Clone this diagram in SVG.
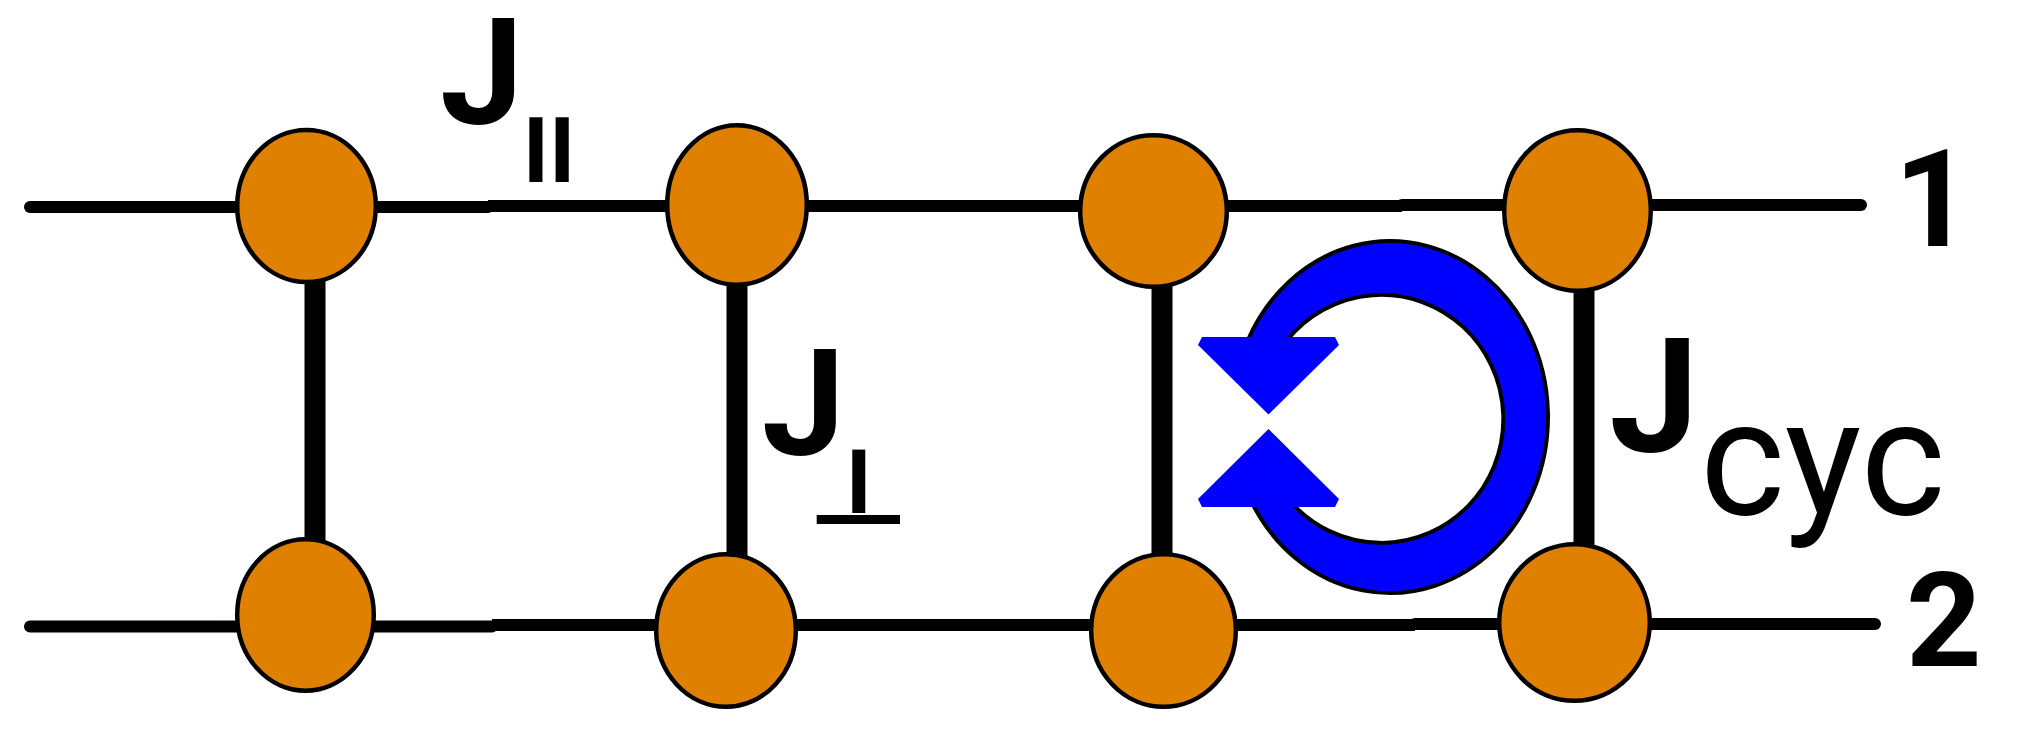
<svg xmlns="http://www.w3.org/2000/svg" width="2034" height="744" viewBox="0 0 2034 744">
  <style>
    .wire { stroke: #000; stroke-width: 12; fill: none; }
    .rung { stroke: #000; stroke-width: 21; fill: none; }
    .site { fill: #E08000; stroke: #000; stroke-width: 4.5; }
    .arrow { fill: #0000FF; }
  </style>
  <rect width="2034" height="744" fill="#fff"/>

  <g id="connectors">
    <line class="wire" x1="30" y1="207" x2="488" y2="207" stroke-linecap="round"/>
    <line class="wire" x1="488" y1="206" x2="1402" y2="206"/>
    <line class="wire" x1="1402" y1="205" x2="1861" y2="205" stroke-linecap="round"/>
    <line class="wire" x1="30" y1="626.5" x2="492" y2="626.5" stroke-linecap="round"/>
    <line class="wire" x1="492" y1="625" x2="1415" y2="625"/>
    <line class="wire" x1="1415" y1="624" x2="1875" y2="624" stroke-linecap="round"/>
    <line class="rung" x1="315" y1="250" x2="315" y2="575"/>
    <line class="rung" x1="737" y1="250" x2="737" y2="590"/>
    <line class="rung" x1="1162" y1="255" x2="1162" y2="590"/>
    <line class="rung" x1="1584" y1="255" x2="1584" y2="580"/>
  </g>

  <g id="n1"><ellipse class="site" cx="306.5" cy="206" rx="69.3" ry="76"/></g>
  <g id="n2"><ellipse class="site" cx="737" cy="205" rx="69.8" ry="79.8"/></g>
  <g id="n3"><ellipse class="site" cx="1153.5" cy="211" rx="73.3" ry="75.8"/></g>
  <g id="n4"><ellipse class="site" cx="1577.5" cy="210.5" rx="73.3" ry="80.3"/></g>
  <g id="n5"><ellipse class="site" cx="305.5" cy="615" rx="68.3" ry="75.8"/></g>
  <g id="n6"><ellipse class="site" cx="726" cy="630.5" rx="69.8" ry="76.3"/></g>
  <g id="n7"><ellipse class="site" cx="1163.5" cy="630.5" rx="72.3" ry="76.3"/></g>
  <g id="n8"><ellipse class="site" cx="1574.5" cy="622.5" rx="75.3" ry="78.3"/></g>

  <g id="cyclic-arrow">
    <path d="M1247.9,340 A158,176 0 1 1 1252.1,503 L1291.7,503 A122,124 0 1 0 1287.2,340 Z" fill="#0000FF" stroke="#000" stroke-width="4" stroke-linejoin="round"/>
    <polygon class="arrow" points="1198,345 1202,337 1335,337 1339,345 1268.5,414.5"/>
    <polygon class="arrow" points="1268.5,429 1339,499 1335,507 1202,507 1198,499"/>
  </g>

  <g id="labels" font-family="Roboto, 'Liberation Sans', sans-serif" fill="#000">
    <g id="label-Jpar" font-weight="bold">
      <text x="440" y="123.5" font-size="149">J</text>
      <text x="549" y="182.3" font-size="90" text-anchor="middle">II</text>
    </g>
    <g id="label-Jperp" font-weight="bold">
      <text x="761.7" y="454.6" font-size="149">J</text>
      <text x="858.8" y="512.7" font-size="89" text-anchor="middle">I</text>
      <rect x="816.7" y="515" width="83.3" height="9" fill="#000"/>
    </g>
    <g id="label-Jcyc">
      <text x="1609.3" y="451.3" font-size="160" font-weight="bold">J</text>
      <text x="1700" y="514.3" font-size="162">cyc</text>
    </g>
    <g id="label-1"><text x="1894" y="246" font-size="136" font-weight="bold">1</text></g>
    <g id="label-2"><text x="1905.9" y="666" font-size="132" font-weight="bold">2</text></g>
  </g>
</svg>
